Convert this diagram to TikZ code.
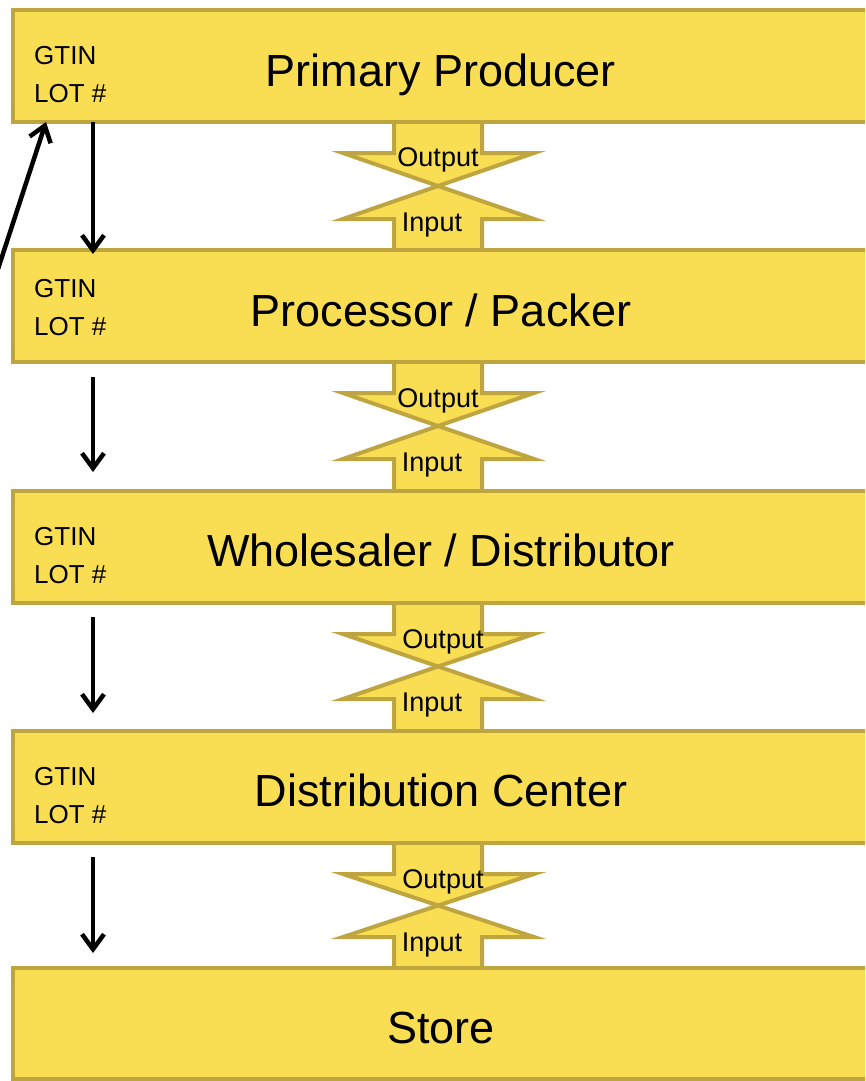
\documentclass[tikz,border=0pt]{standalone}
\usepackage{fontspec}
\setmainfont{Liberation Sans}
\usetikzlibrary{arrows.meta}
\definecolor{boxfill}{RGB}{249,221,82}
\definecolor{boxline}{RGB}{190,165,64}
\begin{document}
\begin{tikzpicture}[x=1pt,y=-1pt,
  stagebox/.style={draw=boxline,fill=boxfill,line width=4pt,rectangle,
    minimum width=856pt,minimum height=112pt,inner sep=0pt,
    text height=40pt,text depth=0pt,
    font=\fontsize{45}{50}\selectfont},
  idlabel/.style={anchor=west,align=left,inner sep=0pt,
    font=\fontsize{26}{38}\selectfont},
  io/.style={draw=boxline,fill=boxfill,line width=4pt},
  iolabel/.style={inner sep=0pt,font=\fontsize{27}{30}\selectfont},
  flow/.style={line width=4.5pt,-{Straight Barb[length=15pt,width=22pt,line width=4.5pt]}}
]
\useasboundingbox (0,0) rectangle (865,1081);
\clip (0,0) rectangle (865,1081);
% connecting input/output shapes
\foreach \yb/\yt in {122/250,362/490,603/730,843/968}{
  \pgfmathsetmacro\ym{(\yb+\yt)/2}
  \draw[io] (394,{\yb-6}) -- (394,{\yb+31}) -- (343,{\yb+31}) -- (438,\ym)
     -- (534,{\yb+31}) -- (482,{\yb+31}) -- (482,{\yb-6}) -- cycle;
  \draw[io] (394,{\yt+6}) -- (394,{\yt-31}) -- (343,{\yt-31}) -- (438,\ym)
     -- (534,{\yt-31}) -- (482,{\yt-31}) -- (482,{\yt+6}) -- cycle;
}
% stage boxes
\node[stagebox] (b1) at (441,66) {Primary Producer};
\node[stagebox] (b2) at (441,306) {Processor / Packer};
\node[stagebox] (b3) at (441,546.5) {Wholesaler / Distributor};
\node[stagebox] (b4) at (441,786.5) {Distribution Center};
\node[stagebox,minimum height=111pt] (b5) at (441,1023.5) {Store};
% id labels
\node[idlabel] (l1) at (34,75) {GTIN\\LOT \#};
\node[idlabel] (l2) at (34,308) {GTIN\\LOT \#};
\node[idlabel] (l3) at (34,556) {GTIN\\LOT \#};
\node[idlabel] (l4) at (34,796) {GTIN\\LOT \#};
% output / input labels
\node[iolabel] (o1) at (438,160) {Output};
\node[iolabel] (i1) at (432,225) {Input};
\node[iolabel] (o2) at (438,401) {Output};
\node[iolabel] (i2) at (432,465) {Input};
\node[iolabel] (o3) at (443,642) {Output};
\node[iolabel] (i3) at (432,705) {Input};
\node[iolabel] (o4) at (443,882) {Output};
\node[iolabel] (i4) at (432,945) {Input};
% flow arrows
\coordinate (s1) at (93,122);  \coordinate (e1) at (93,254);
\coordinate (s2) at (93,377);  \coordinate (e2) at (93,472);
\coordinate (s3) at (93,617);  \coordinate (e3) at (93,713);
\coordinate (s4) at (93,857);  \coordinate (e4) at (93,953);
\coordinate (back) at (-3,272); \coordinate (backend) at (46,122);
\draw[flow] (s1) -- (e1);
\draw[flow] (s2) -- (e2);
\draw[flow] (s3) -- (e3);
\draw[flow] (s4) -- (e4);
\draw[flow] (back) -- (backend);
\end{tikzpicture}
\end{document}
